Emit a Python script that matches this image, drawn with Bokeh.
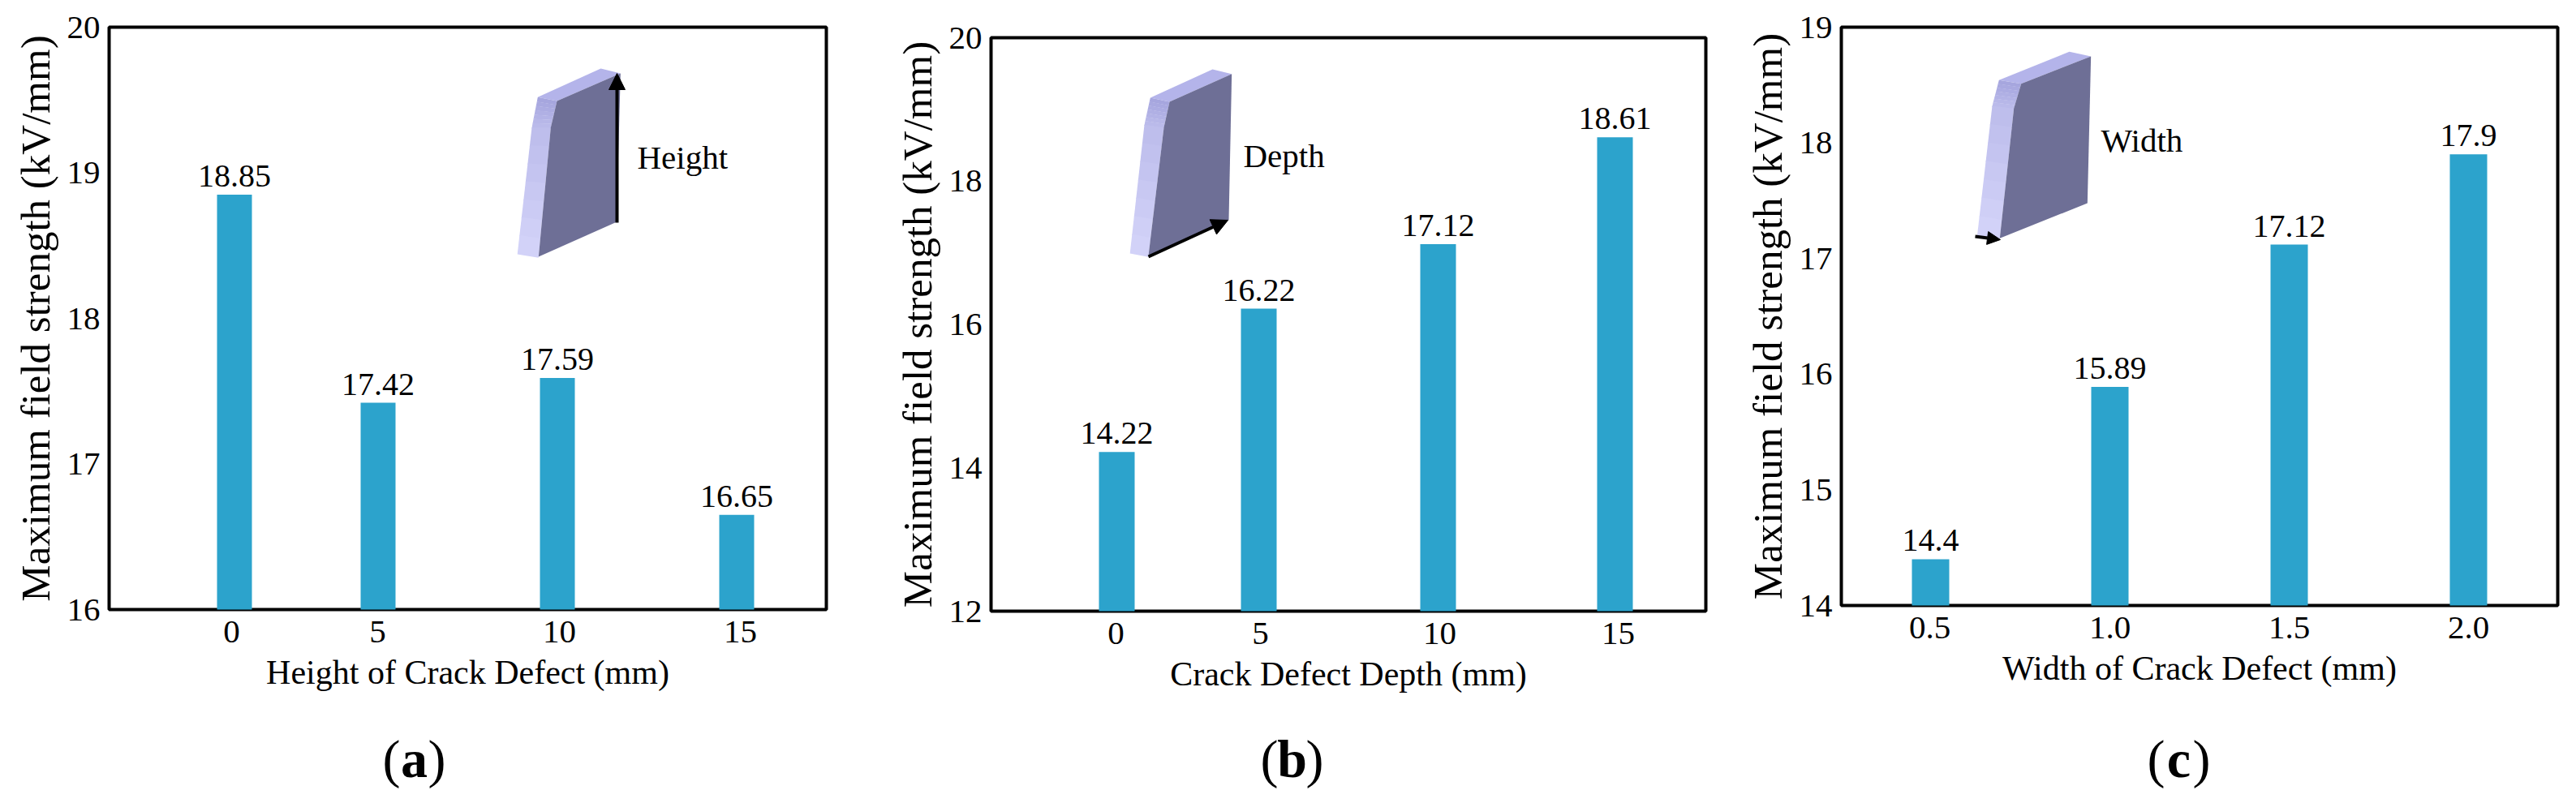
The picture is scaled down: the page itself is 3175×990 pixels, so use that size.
from bokeh.plotting import figure
from bokeh.layouts import row, column
from bokeh.models import FixedTicker, Label, Arrow, NormalHead, ColumnDataSource
from bokeh.embed import file_html
from bokeh.resources import INLINE
from bokeh.core.properties import value

# ---------- chart data ----------
cats_a = ["0", "5", "10", "15"]
vals_a = [18.85, 17.42, 17.59, 16.65]
cats_b = ["0", "5", "10", "15"]
vals_b = [14.22, 16.22, 17.12, 18.61]
cats_c = ["0.5", "1.0", "1.5", "2.0"]
vals_c = [14.4, 15.89, 17.12, 17.9]
ylab = "Maximum field strength (kV/mm)"
xlab_a = "Height of Crack Defect (mm)"
xlab_b = "Crack Defect Depth (mm)"
xlab_c = "Width of Crack Defect (mm)"

# ---------- layout (full-page pixels) ----------
FONT = "Liberation Serif"
BAR = "#2CA3CC"
TOP_B = 33
BOT_B = 140
ROW_END = 893
TAG_H = 92


def panel(cats, vals, ylo, yhi, yticks, xtitle, fig_l, fig_r, box, bars_px, ticks_px, bar_w,
          label_dx, shape, arrow, word, word_px):
    L, T, R, B = box
    upx = 221.0
    x0 = -(bars_px[0] - L) / upx
    x1 = x0 + (R - L) / upx
    ky = (yhi - ylo) / (B - T)
    X = lambda px: x0 + (px - L) / upx
    Y = lambda py: ylo + (B - py) * ky

    slots = [X(v) for v in bars_px]
    tick_pos = [X(v) for v in ticks_px]

    p = figure(width=fig_r - fig_l, height=(B - T) + TOP_B + BOT_B, x_range=(x0, x1), y_range=(ylo, yhi),
               output_backend="svg", toolbar_location=None,
               min_border_left=L - fig_l, min_border_right=fig_r - R,
               min_border_top=TOP_B, min_border_bottom=BOT_B,
               margin=(T - TOP_B, 0, 0, 0))
    p.grid.visible = False
    p.outline_line_color = "black"
    p.outline_line_width = 4

    p.xaxis.ticker = FixedTicker(ticks=tick_pos)
    p.xaxis.major_label_overrides = {t: c for t, c in zip(tick_pos, cats)}
    p.yaxis.ticker = FixedTicker(ticks=yticks)
    for ax in (p.xaxis[0], p.yaxis[0]):
        ax.major_tick_line_color = None
        ax.minor_tick_line_color = None
        ax.axis_line_color = None
        ax.major_label_text_font = FONT
        ax.major_label_text_font_size = "41px"
        ax.major_label_text_color = "black"
        ax.axis_label_text_font = FONT
        ax.axis_label_text_font_style = "normal"
        ax.axis_label_text_color = "black"
    p.xaxis.major_label_standoff = 8
    p.yaxis.major_label_standoff = 5
    p.yaxis.axis_label = ylab
    p.yaxis.axis_label_text_font_size = "51px"
    p.yaxis.axis_label_standoff = 8
    p.xaxis.axis_label = xtitle
    p.xaxis.axis_label_text_font_size = "42px"
    p.xaxis.axis_label_standoff = 11

    src = ColumnDataSource(dict(x=slots, top=vals, bottom=[ylo] * len(vals),
                                lx=[s + label_dx / upx for s in slots],
                                txt=[f"{v:g}" for v in vals]))
    p.vbar(x="x", top="top", bottom="bottom", width=bar_w / upx, source=src,
           fill_color=BAR, line_color=None, level="overlay")
    p.text(x="lx", y="top", text="txt", source=src, text_font=value(FONT), text_font_size=value("40px"),
           text_color="black", text_align="center", text_baseline="bottom", y_offset=-10, level="overlay")

    # inset illustration: shaded block
    tf, lf_out, lf_in, ff = shape
    p.patch([X(v[0]) for v in tf], [Y(v[1]) for v in tf], fill_color="#B4B4EA", line_color=None)
    n = 14
    def lerp(a, b, t):
        return (a[0] + (b[0] - a[0]) * t, a[1] + (b[1] - a[1]) * t)
    def edge(pts, t):
        t2 = t * (len(pts) - 1)
        i = min(int(t2), len(pts) - 2)
        return lerp(pts[i], pts[i + 1], t2 - i)
    for i in range(n):
        t0, t1 = i / n, (i + 1) / n
        q = [edge(lf_out, t0), edge(lf_in, t0), edge(lf_in, t1 + 0.004), edge(lf_out, t1 + 0.004)]
        c0, c1 = (166, 166, 222), (214, 214, 250)
        col = "#%02x%02x%02x" % tuple(int(c0[k] + (c1[k] - c0[k]) * t0) for k in range(3))
        p.patch([X(v[0]) for v in q], [Y(v[1]) for v in q], fill_color=col, line_color=None)
    front = [lf_in[0], ff[1], ff[2], lf_in[2], lf_in[1]]
    p.patch([X(v[0]) for v in front], [Y(v[1]) for v in front], fill_color="#6E6F96", line_color=None)

    (ax0, ay0), (ax1, ay1), hs = arrow
    p.add_layout(Arrow(end=NormalHead(size=hs, fill_color="black", line_color="black", line_width=1),
                       x_start=X(ax0), y_start=Y(ay0), x_end=X(ax1), y_end=Y(ay1),
                       line_color="black", line_width=4))
    p.add_layout(Label(x=X(word_px[0]), y=Y(word_px[1]), text=word, text_font=FONT, text_font_size="41px",
                       text_color="black", text_align="left", text_baseline="middle"))
    return p


def tag_fig(tag, fig_l, fig_r, cx):
    t = figure(width=fig_r - fig_l, height=TAG_H, x_range=(fig_l, fig_r), y_range=(ROW_END + TAG_H, ROW_END),
               x_axis_type=None, y_axis_type=None, output_backend="svg", toolbar_location=None,
               min_border=0, outline_line_color=None)
    t.grid.visible = False
    hw = 17
    for s, dx, al, st in (("(", -hw, "right", "normal"), (tag, 0, "center", "bold"), (")", hw, "left", "normal")):
        t.add_layout(Label(x=cx + dx, y=935, text=s, text_font=FONT, text_font_size="66px",
                           text_font_style=st, text_color="black", text_align=al, text_baseline="middle"))
    return t


def crop(ox, oy, pts):
    return [(ox + a / 3, oy + b / 3) for a, b in pts]


sa = (crop(600, 60, [(187, 178), (420, 72), (493, 90), (258, 192)]),
      crop(600, 60, [(187, 178), (165, 290), (112, 755)]),
      crop(600, 60, [(258, 192), (235, 290), (190, 768)]),
      crop(600, 60, [(258, 192), (493, 90), (478, 640), (190, 768)]))
sb = (crop(1360, 60, [(172, 180), (402, 75), (473, 92), (243, 195)]),
      crop(1360, 60, [(172, 180), (150, 280), (97, 752)]),
      crop(1360, 60, [(243, 195), (222, 290), (165, 765)]),
      crop(1360, 60, [(243, 195), (473, 92), (462, 632), (165, 765)]))
sc = (crop(2380, 40, [(250, 175), (510, 70), (590, 87), (332, 188)]),
      crop(2380, 40, [(250, 175), (225, 270), (170, 745)]),
      crop(2380, 40, [(332, 188), (305, 280), (253, 760)]),
      crop(2380, 40, [(332, 188), (590, 87), (577, 630), (253, 760)]))

pa = panel(cats_a, vals_a, 16, 20, [16, 17, 18, 19, 20], xlab_a, 0, 1082, (134, 33, 1018, 751),
           [288.5, 465.5, 686.5, 907.5], [285, 465, 689, 912], 43, 0,
           sa, ((760, 274), (760, 90), 20), "Height", (785, 193))
pb = panel(cats_b, vals_b, 12, 20, [12, 14, 16, 18, 20], xlab_b, 1082, 2132, (1221, 46, 2102, 753),
           [1376, 1551, 1772, 1990], [1375, 1553, 1774, 1994], 44, 0,
           sb, ((1415, 316), (1513, 271), 20), "Depth", (1532, 191))
pc = panel(cats_c, vals_c, 14, 19, [14, 15, 16, 17, 18, 19], xlab_c, 2132, 3167, (2269, 33, 3152, 746),
           [2379, 2600, 2821, 3042], [2378, 2600, 2821, 3042], 46, 0,
           sc, ((2434, 291), (2465, 295), 16), "Width", (2589, 172))

tags = row(tag_fig("a", 0, 1082, 510), tag_fig("b", 1082, 2132, 1592), tag_fig("c", 2132, 3167, 2685), spacing=0)
page = column(row(pa, pb, pc, spacing=0), tags, spacing=0)
open("out.html", "w").write(file_html(page, INLINE))
